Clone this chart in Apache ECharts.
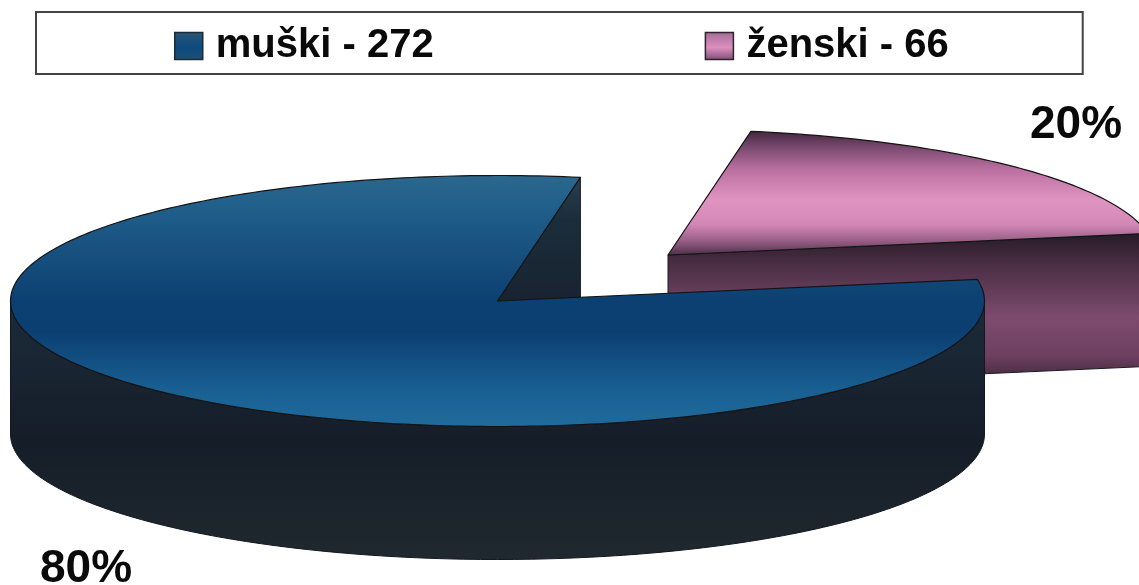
<!DOCTYPE html>
<html>
<head>
<meta charset="utf-8">
<style>html,body{margin:0;padding:0;background:#fff}#c{width:1139px;height:585px}</style>
<script src="https://cdn.jsdelivr.net/npm/echarts@6/dist/echarts.min.js"></script>
</head>
<body>
<div id="c"></div>
<script>
const categories = ['muški', 'ženski'];
const values = [272, 66];
const percentLabels = ['80%', '20%'];

// Layout of the tilted pie, separate from the data
const START_DEG = 80.2, RX = 487, RY = 125.5, DEPTH = 133;
const FONT = '"Liberation Sans", Arial, sans-serif';
const total = values.reduce((a, b) => a + b, 0);

const looks = [
  { cx: 497.5, cy: 301, labelX: 40, labelY: 546,
    top: [[0,'#2b678d'],[0.1,'#22618c'],[0.5,'#0c4072'],[0.62,'#0b3f72'],[0.85,'#195f92'],[1,'#1f6b9c']], topY: [176, 427],
    wall: [[0,'#1c2c3a'],[0.55,'#151d28'],[1,'#20292f']], wallY: [300, 560],
    inner: [[0,'#28404f'],[0.35,'#1b2d3b'],[1,'#182330']], innerY: [176, 300] },
  { cx: 668, cy: 255, labelX: 1030, labelY: 102,
    top: [[0,'#4a2a44'],[0.12,'#7a4a70'],[0.3,'#bb70a2'],[0.55,'#df94c1'],[0.75,'#d287b6'],[0.88,'#9a6088'],[1,'#4f3049']], topY: [133, 255],
    wall: [[0,'#2a1c29'],[0.2,'#4c2f45'],[0.55,'#7d4b6e'],[0.8,'#6e4060'],[1,'#3c2336']], wallY: [236, 385] }
];

function grad(range, stops) {
  return { type: 'linear', x: 0, y: range[0], x2: 0, y2: range[1], global: true,
    colorStops: stops.map(s => ({ offset: s[0], color: s[1] })) };
}
function pt(l, deg, dy) {
  const a = deg * Math.PI / 180;
  return [l.cx + RX * Math.cos(a), l.cy - RY * Math.sin(a) + (dy || 0)];
}
function arc(l, from, to, dy) {
  const out = [], n = Math.max(2, Math.ceil(Math.abs(to - from)));
  for (let i = 0; i <= n; i++) out.push(pt(l, from + (to - from) * i / n, dy));
  return out;
}
// slice index -> angular span, going counter-clockwise from START_DEG
function span(idx) {
  let s = START_DEG;
  for (let i = 0; i < idx; i++) s += values[i] / total * 360;
  return [s, s + values[idx] / total * 360];
}

function renderSlice(idx) {
  return function () {
    const l = looks[idx], sp = span(idx), a0 = sp[0], a1 = sp[1];
    const apex = [l.cx, l.cy], kids = [];
    // Radial wall that faces the viewer
    const p = pt(l, a0);
    kids.push({ type: 'polygon', shape: { points: [apex, p, [p[0], p[1] + DEPTH], [apex[0], apex[1] + DEPTH]] },
      style: { fill: grad(idx === 0 ? l.innerY : l.wallY, idx === 0 ? l.inner : l.wall), stroke: '#161c24', lineWidth: 1 } });
    // Outer rim: only the part on the near half of the ellipse
    const v0 = Math.max(a0, 180), v1 = Math.min(a1, 360);
    if (v1 > v0) {
      const pts = arc(l, v0, v1, 0).concat(arc(l, v1, v0, DEPTH));
      kids.push({ type: 'polygon', shape: { points: pts },
        style: { fill: grad(l.wallY, l.wall), stroke: '#12181f', lineWidth: 1 } });
    }
    // Top face
    kids.push({ type: 'polygon', shape: { points: [apex].concat(arc(l, a0, a1, 0)) },
      style: { fill: grad(l.topY, l.top), stroke: '#141414', lineWidth: 1.2, lineJoin: 'round' } });
    // Percentage label
    kids.push({ type: 'text', style: { text: percentLabels[idx], x: l.labelX, y: l.labelY,
      fill: '#0a0a0a', font: 'bold 46px ' + FONT, textAlign: 'left', textVerticalAlign: 'top' } });
    return { type: 'group', children: kids };
  };
}

const legendNames = categories.map((c, i) => c + ' - ' + values[i]);
const chart = echarts.init(document.getElementById('c'), null, { renderer: 'canvas' });
chart.setOption({
  animation: false,
  backgroundColor: '#ffffff',
  legend: {
    left: 36, top: 12, orient: 'horizontal',
    padding: [14, 134, 8, 138],
    borderColor: '#444444', borderWidth: 2, backgroundColor: '#ffffff',
    itemWidth: 28, itemHeight: 27, itemGap: 271, selectedMode: false,
    textStyle: { color: '#0a0a0a', fontFamily: FONT, fontWeight: 'bold', fontSize: 40, padding: [0, 0, 0, 8] },
    data: [
      { name: legendNames[0], icon: 'rect',
        itemStyle: { borderColor: '#1c2a36', borderWidth: 1.5, color: { type: 'linear', x: 0, y: 0, x2: 0, y2: 1,
          colorStops: [{ offset: 0, color: '#2b5674' }, { offset: 0.55, color: '#0d4a80' }, { offset: 1, color: '#1f4f70' }] } } },
      { name: legendNames[1], icon: 'rect',
        itemStyle: { borderColor: '#2e2230', borderWidth: 1.5, color: { type: 'linear', x: 0, y: 0, x2: 0, y2: 1,
          colorStops: [{ offset: 0, color: '#a06c92' }, { offset: 0.55, color: '#dd90c0' }, { offset: 1, color: '#7a4d70' }] } } }
    ]
  },
  series: [1, 0].map(i => ({
    type: 'custom', name: legendNames[i], coordinateSystem: 'none', silent: true,
    data: [[values[i]]], renderItem: renderSlice(i)
  }))
});
</script>
</body>
</html>
